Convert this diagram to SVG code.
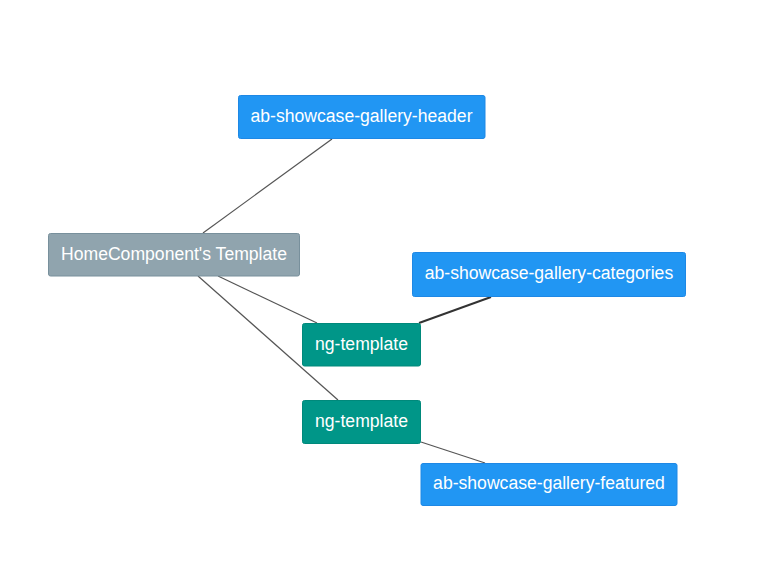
<svg xmlns="http://www.w3.org/2000/svg" width="778" height="579" viewBox="0 0 778 579">
<style>
.n rect{stroke-width:1}
.b rect{fill:#2196f3;stroke:#1e88e5}
.g rect{fill:#90a4ae;stroke:#78909c}
.t rect{fill:#009688;stroke:#00897b}
.n text{font-family:"Liberation Sans",Arial,sans-serif;font-size:17.6px;fill:#fff;text-anchor:middle;dominant-baseline:central}
.c line{stroke:#555;stroke-width:1.2}
</style>
<rect width="778" height="579" fill="#fff"/>
<g id="connectors" class="c">
<line x1="332" y1="139" x2="203" y2="233"/>
<line x1="218" y1="276" x2="317" y2="323"/>
<line x1="198" y1="276" x2="338" y2="400"/>
<line x1="419" y1="323" x2="491" y2="297" style="stroke:#333;stroke-width:2"/>
<line x1="421" y1="442" x2="485" y2="463"/>
</g>
<g id="home" class="n g"><rect x="48.5" y="233.5" width="251" height="42.5" rx="2"/><text x="174" y="253.5">HomeComponent's Template</text></g>
<g id="header" class="n b"><rect x="238.5" y="95.5" width="246.5" height="43" rx="2"/><text x="361.5" y="115.5">ab-showcase-gallery-header</text></g>
<g id="categories" class="n b"><rect x="412.5" y="252.5" width="273" height="44" rx="2"/><text x="549" y="273">ab-showcase-gallery-categories</text></g>
<g id="ngtemplate1" class="n t"><rect x="302.5" y="323.5" width="118" height="42.5" rx="2"/><text x="361.5" y="343.5">ng-template</text></g>
<g id="ngtemplate2" class="n t"><rect x="302.5" y="400.5" width="118" height="43" rx="2"/><text x="361.5" y="420.5">ng-template</text></g>
<g id="featured" class="n b"><rect x="421" y="463.5" width="256" height="42" rx="2"/><text x="549" y="483">ab-showcase-gallery-featured</text></g>
</svg>
